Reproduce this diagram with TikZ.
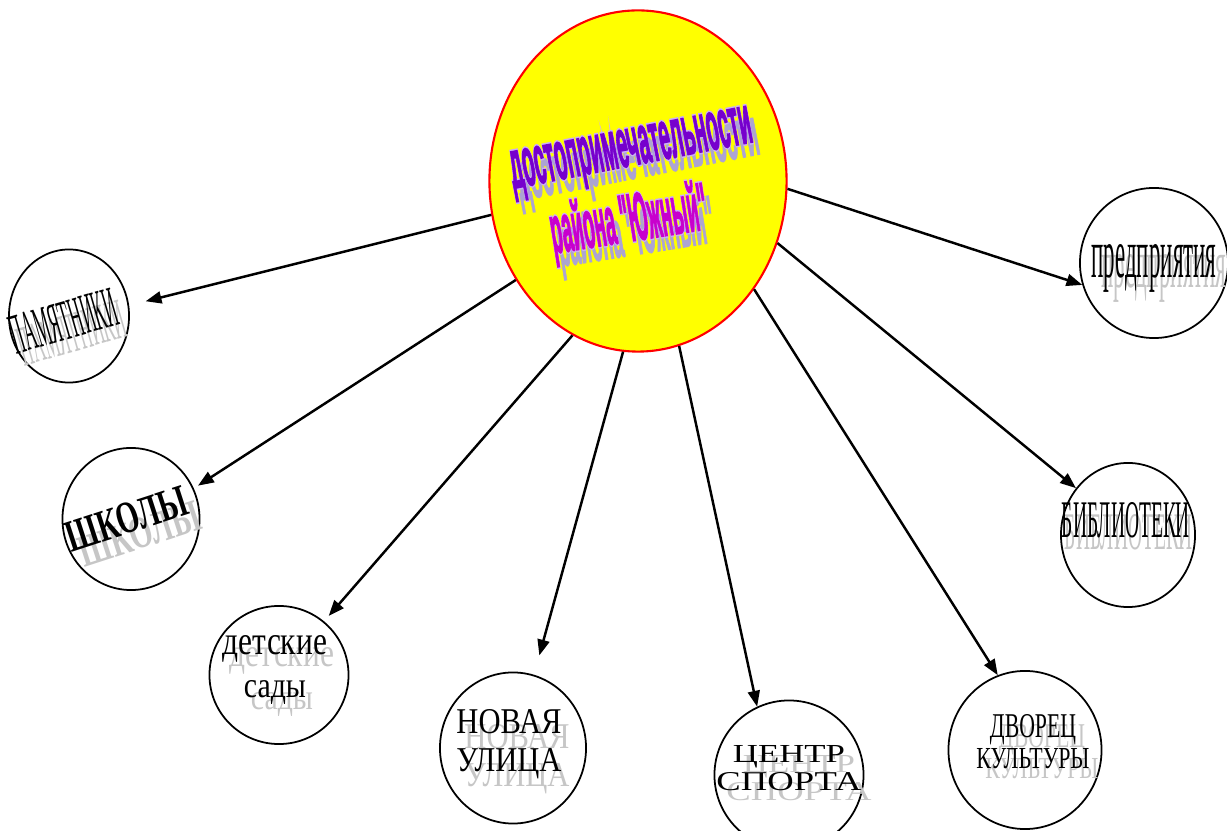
\documentclass[tikz,border=0pt]{standalone}
\usepackage{fontspec}
\setmainfont{Liberation Serif}
\newfontfamily\titlefont{Liberation Sans}[BoldFeatures={FakeBold=2.5}]
\newfontfamily\titlecontour{Liberation Sans}[BoldFeatures={FakeBold=7}]
\usepackage{graphicx}
\usetikzlibrary{shapes.geometric,arrows.meta}

\definecolor{zholtyj}{RGB}{255,255,0}
\definecolor{fiolet}{RGB}{118,0,205}
\definecolor{malina}{RGB}{200,0,205}
\definecolor{lavanda}{RGB}{172,164,210}
\definecolor{kontur}{RGB}{205,175,245}
\definecolor{ten}{RGB}{198,198,198}

\tikzset{
  krug/.style={draw, ellipse, line width=0.5pt, inner sep=0pt, fill=white},
  nadp/.style={inner sep=0pt},
  ghost/.style={text=ten},
  heading/.style={inner sep=0pt, anchor=base, font=\titlefont\bfseries},
  contour/.style={heading, font=\titlecontour\bfseries, text=kontur},
  strelka/.style={-{Triangle[length=4.5pt,width=3.4pt]}, line width=0.7pt},
}

% надпись с тенью: имя, точка, опции, текст, сдвиг тени
\newcommand{\nadpis}[5]{%
  \node[nadp,#3,ghost] (#1-ten) at ([shift={#5}]#2) {#4};
  \node[nadp,#3] (#1) at (#2) {#4};}

\begin{document}
\begin{tikzpicture}[x=0.01cm, y=-0.01cm]
    \useasboundingbox (0,0) rectangle (1227,831);

    % Центральный эллипс
    \node[ellipse, draw=red, line width=0.6pt, fill=zholtyj,
          minimum width=2.97cm, minimum height=3.41cm] (main) at (638,181) {};

    % Круги
    \node[krug, minimum width=1.20cm, minimum height=1.33cm] (pam) at (69,316) {};
    \node[krug, minimum width=1.37cm, minimum height=1.42cm] (shk) at (131,519) {};
    \node[krug, minimum width=1.39cm, minimum height=1.38cm] (det) at (279,675) {};
    \node[krug, minimum width=1.46cm, minimum height=1.51cm] (nov) at (513,748) {};
    \node[krug, minimum width=1.49cm, minimum height=1.49cm] (cen) at (789,775) {};
    \node[krug, minimum width=1.53cm, minimum height=1.58cm] (dvo) at (1025,750) {};
    \node[krug, minimum width=1.34cm, minimum height=1.44cm] (bib) at (1128,535) {};
    \node[krug, minimum width=1.48cm, minimum height=1.50cm] (pre) at (1154,263) {};

    % Стрелки
    \draw[strelka, shorten >=0.17cm] (main.193) -- (pam.10);
    \draw[strelka, shorten >=0.05cm] (main.219) -- (shk.26);
    \draw[strelka, shorten >=0.07cm] (main.247) -- (det.50);
    \draw[strelka, shorten >=0.20cm] (main.265) -- (nov.74);
    \draw[strelka] (main.284) -- (cen.115);
    \draw[strelka] (main.317) -- (dvo.110);
    \draw[strelka] (main.336) -- (bib.138);
    \draw[strelka] (main.357) -- (pre.197);

    % Заголовок: тень, контур, буквы
    \node[heading, rotate=11, text=lavanda] (title1-ten) at (641,177)
        {\resizebox{2.45cm}{0.37cm}{достопримечательности}};
    \node[contour, rotate=11] (title1-kontur) at (634,165)
        {\resizebox{2.45cm}{0.37cm}{достопримечательности}};
    \node[heading, rotate=11, text=fiolet] (title1) at (634,165)
        {\resizebox{2.45cm}{0.37cm}{достопримечательности}};
    \node[heading, rotate=9, text=lavanda] (title2-ten) at (639,254)
        {\resizebox{1.58cm}{0.50cm}{района "Южный"}};
    \node[contour, rotate=9] (title2-kontur) at (632,241)
        {\resizebox{1.58cm}{0.50cm}{района "Южный"}};
    \node[heading, rotate=9, text=malina] (title2) at (632,241)
        {\resizebox{1.58cm}{0.50cm}{района "Южный"}};

    % Подписи кругов
    \nadpis{pam-txt}{69,339}{anchor=base, rotate=16}
        {\resizebox{1.09cm}{0.38cm}{ПАМЯТНИКИ}}{(8,12)}
    \nadpis{shk-txt}{131,533}{anchor=base, rotate=18, font=\bfseries}
        {\resizebox{1.25cm}{0.30cm}{ШКОЛЫ}}{(13,15)}
    \nadpis{det-txt}{275,670}{align=center, font={\fontsize{10}{12}\selectfont}}
        {\resizebox{1.04cm}{0.19cm}{детские}\\\resizebox{0.62cm}{0.17cm}{сады}}{(7,12)}
    \nadpis{nov-txt}{509,744}{align=center, font={\fontsize{10}{10.8}\selectfont}}
        {\resizebox{1.05cm}{0.24cm}{НОВАЯ}\\\resizebox{1.05cm}{0.23cm}{УЛИЦА}}{(8,15)}
    \nadpis{cen-txt}{789,768}{align=center, font={\fontsize{10}{8}\selectfont}}
        {\resizebox{1.12cm}{0.17cm}{ЦЕНТР}\\\resizebox{1.45cm}{0.18cm}{СПОРТА}}{(10,10)}
    \nadpis{dvo-txt}{1033,742}{align=center, font={\fontsize{10}{7.7}\selectfont}}
        {\resizebox{0.86cm}{0.23cm}{ДВОРЕЦ}\\\resizebox{1.13cm}{0.20cm}{КУЛЬТУРЫ}}{(9,10)}
    \nadpis{bib-txt}{1126,538}{anchor=base}
        {\resizebox{1.28cm}{0.35cm}{БИБЛИОТЕКИ}}{(3,12)}
    \nadpis{pre-txt}{1154,278}{anchor=base}
        {\resizebox{1.25cm}{0.33cm}{предприятия}}{(10,10)}

\end{tikzpicture}
\end{document}
